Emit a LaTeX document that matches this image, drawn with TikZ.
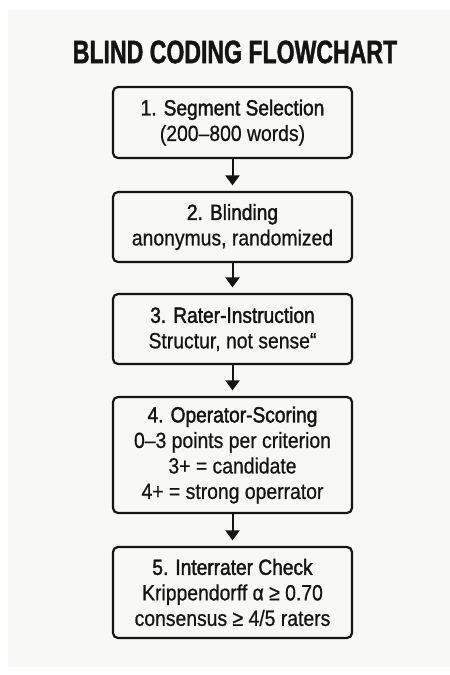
\documentclass[tikz,border=0pt]{standalone}
\usepackage{fontspec}
\setmainfont{Liberation Sans}[FakeStretch=0.88,FakeBold=0.7]
\newfontfamily\headfont{Liberation Sans}[FakeStretch=0.87,FakeBold=1.7]
\newfontfamily\titlefont{Liberation Sans}[FakeStretch=0.71,FakeBold=1.2]
\usetikzlibrary{arrows.meta}
\definecolor{bgc}{RGB}{248,248,246}
\definecolor{ink}{RGB}{20,20,20}
\tikzset{
  stepbox/.style={draw=ink, line width=2.2pt, rounded corners=5pt, fill=bgc,
    minimum width=239pt, inner sep=0pt, align=center, text=ink,
    font=\fontsize{22}{25.5}\selectfont},
  flow/.style={draw=ink, line width=2pt, shorten >=5.5pt,
    -{Triangle[width=14pt,length=10pt]}}
}
\begin{document}
\begin{tikzpicture}[x=1pt,y=-1pt]
\useasboundingbox (0,0) rectangle (450,675);
\fill[white] (0,0) rectangle (450,675);
\fill[bgc] (8,10) rectangle (450,667);
\node[text=ink, font=\titlefont\bfseries\fontsize{32.5}{36}\selectfont] (title) at (235,52) {BLIND CODING FLOWCHART};
\node[stepbox, minimum height=71pt] (s1) at (232.5,122.5) {{\headfont 1. Segment Selection}\\(200–800 words)};
\node[stepbox, minimum height=70pt] (s2) at (232.5,227) {{\headfont 2. Blinding}\\anonymus, randomized};
\node[stepbox, minimum height=70pt] (s3) at (232.5,329) {{\headfont 3. Rater-Instruction}\\Structur, not sense“};
\node[stepbox, minimum height=116pt] (s4) at (232.5,455) {{\headfont 4. Operator-Scoring}\\0–3 points per criterion\\3+ = candidate\\4+ = strong operrator};
\node[stepbox, minimum height=91pt] (s5) at (232.5,592.5) {{\headfont 5. Interrater Check}\\Krippendorff α ≥ 0.70\\consensus ≥ 4/5 raters};
\draw[flow] (s1) -- (s2);
\draw[flow] (s2) -- (s3);
\draw[flow] (s3) -- (s4);
\draw[flow] (s4) -- (s5);
\end{tikzpicture}
\end{document}
